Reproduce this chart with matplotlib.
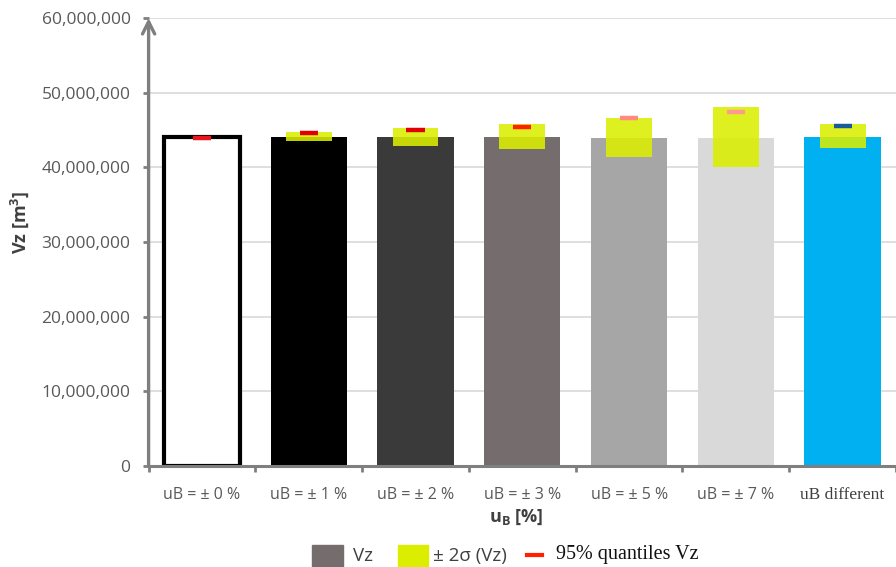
import matplotlib
matplotlib.use("Agg")
import matplotlib.pyplot as plt
from matplotlib.patches import Rectangle
from matplotlib.lines import Line2D
from matplotlib.ticker import FuncFormatter, MultipleLocator
import numpy as np

# ---- data ----
categories = ["uB = ± 0 %", "uB = ± 1 %", "uB = ± 2 %", "uB = ± 3 %",
              "uB = ± 5 %", "uB = ± 7 %", "uB different"]
vz_mean = [44.1e6, 44.1e6, 44.1e6, 44.1e6, 43.95e6, 43.95e6, 44.1e6]
sigma_low = [44.1e6, 43.48e6, 42.86e6, 42.50e6, 41.34e6, 40.08e6, 42.59e6]
sigma_high = [44.1e6, 44.77e6, 45.22e6, 45.80e6, 46.57e6, 48.04e6, 45.80e6]
quantile95 = [43.92e6, 44.64e6, 45.0e6, 45.4e6, 46.57e6, 47.45e6, 45.57e6]

bar_colors = ["#ffffff", "#000000", "#3a3a3a", "#756d6d", "#a6a6a6", "#d9d9d9", "#00b0f0"]
q_colors = ["#e8141e", "#e00000", "#e00000", "#ff2000", "#ff8a80", "#ff9a90", "#1a5a9a"]
yellow = "#dbee00"

plt.rcParams["mathtext.fontset"] = "custom"
plt.rcParams["mathtext.bf"] = "Open Sans:bold"
plt.rcParams["mathtext.rm"] = "Open Sans"

W, H = 896, 567
fig = plt.figure(figsize=(W / 100, H / 100), dpi=100)

def fx(px):
    return px / W

def fy(py):
    return (H - py) / H

ax_left, ax_right = 148.6, 896
ax_top, ax_bot = 18, 466
ax = fig.add_axes([fx(ax_left), fy(ax_bot), fx(ax_right) - fx(ax_left), fy(ax_top) - fy(ax_bot)])

x = np.arange(len(categories))
bw = 0.715
for i in range(len(categories)):
    if i == 0:
        ax.bar(x[i], vz_mean[i], width=bw, color="white", edgecolor="black", linewidth=3.0, zorder=3)
    else:
        ax.bar(x[i], vz_mean[i], width=bw, color=bar_colors[i], linewidth=0, zorder=3)

sig_h = np.array(sigma_high) - np.array(sigma_low)
ax.bar(x, sig_h, bottom=sigma_low, width=0.43, color=yellow, alpha=0.875, linewidth=0, zorder=4)
for i in range(len(categories)):
    ax.hlines(quantile95[i], x[i] - 0.085, x[i] + 0.085, colors=q_colors[i], linewidth=3.2, zorder=5)

ax.set_xlim(-0.5, -0.5 + (ax_right - ax_left) / 107.7)
ax.set_ylim(0, 60e6)

# grid
ax.yaxis.set_major_locator(MultipleLocator(10e6))
ax.grid(axis="y", color="#d9d9d9", linewidth=1.2, zorder=0)
ax.set_axisbelow(True)

for s in ["top", "right", "left"]:
    ax.spines[s].set_visible(False)
ax.spines["bottom"].set_color("#7f7f7f")
ax.spines["bottom"].set_linewidth(2.2)
ax.spines["bottom"].set_zorder(6)

# left axis with arrow
ax.annotate("", xy=(0, 1.0), xytext=(0, 0), xycoords="axes fraction",
            arrowprops=dict(arrowstyle="->", color="#7f7f7f", lw=2.4, mutation_scale=22,
                            shrinkA=0, shrinkB=0), annotation_clip=False, zorder=7)

ax.yaxis.set_major_formatter(FuncFormatter(lambda v, p: f"{int(v):,}"))
ax.tick_params(axis="y", which="major", length=4, width=2, color="#7f7f7f",
               labelsize=12.5, labelcolor="#595959", pad=9)
for lab in ax.get_yticklabels():
    lab.set_fontfamily("Open Sans")

ax.set_xticks(x)
ax.set_xticks(np.arange(-0.5, len(categories), 1.0), minor=True)
ax.set_xticklabels(categories)
ax.tick_params(axis="x", which="major", length=0, labelsize=11.5, labelcolor="#595959", pad=15)
ax.tick_params(axis="x", which="minor", length=4, width=2, color="#7f7f7f")
for i, lab in enumerate(ax.get_xticklabels()):
    if i == len(categories) - 1:
        lab.set_fontfamily("Liberation Serif")
        lab.set_fontsize(12.5)
        lab.set_color("#404040")
    else:
        lab.set_fontfamily("Open Sans")

fig.text(fx(516), fy(517), r"$\mathbf{u}_\mathbf{B}$ [%]", ha="center", va="center",
         fontsize=13, fontweight="bold", color="#404040", family="Open Sans")
fig.text(fx(19.5), fy(222), r"Vz [m$^\mathbf{3}$]", ha="center", va="center", rotation=90,
         fontsize=13, fontweight="bold", color="#404040", family="Open Sans")

# legend (manual)
fig.add_artist(Rectangle((fx(312), fy(572)), fx(343) - fx(312), fy(545) - fy(572),
                         transform=fig.transFigure, color="#756d6d", clip_on=False))
fig.text(fx(353), fy(556), "Vz", ha="left", va="center", fontsize=13.5, color="#404040", family="Open Sans")
fig.add_artist(Rectangle((fx(398), fy(572)), fx(428) - fx(398), fy(545) - fy(572),
                         transform=fig.transFigure, color=yellow, clip_on=False))
fig.text(fx(433), fy(556), "± 2σ (Vz)", ha="left", va="center", fontsize=13.5, color="#404040", family="Open Sans")
fig.add_artist(Line2D([fx(527), fx(542)], [fy(555), fy(555)], transform=fig.transFigure,
                      color="#ff2000", linewidth=3))
fig.text(fx(556), fy(555), "95% quantiles Vz", ha="left", va="center", fontsize=14.5,
         color="#111111", family="Liberation Serif")

fig.savefig("out.png", dpi=100)
